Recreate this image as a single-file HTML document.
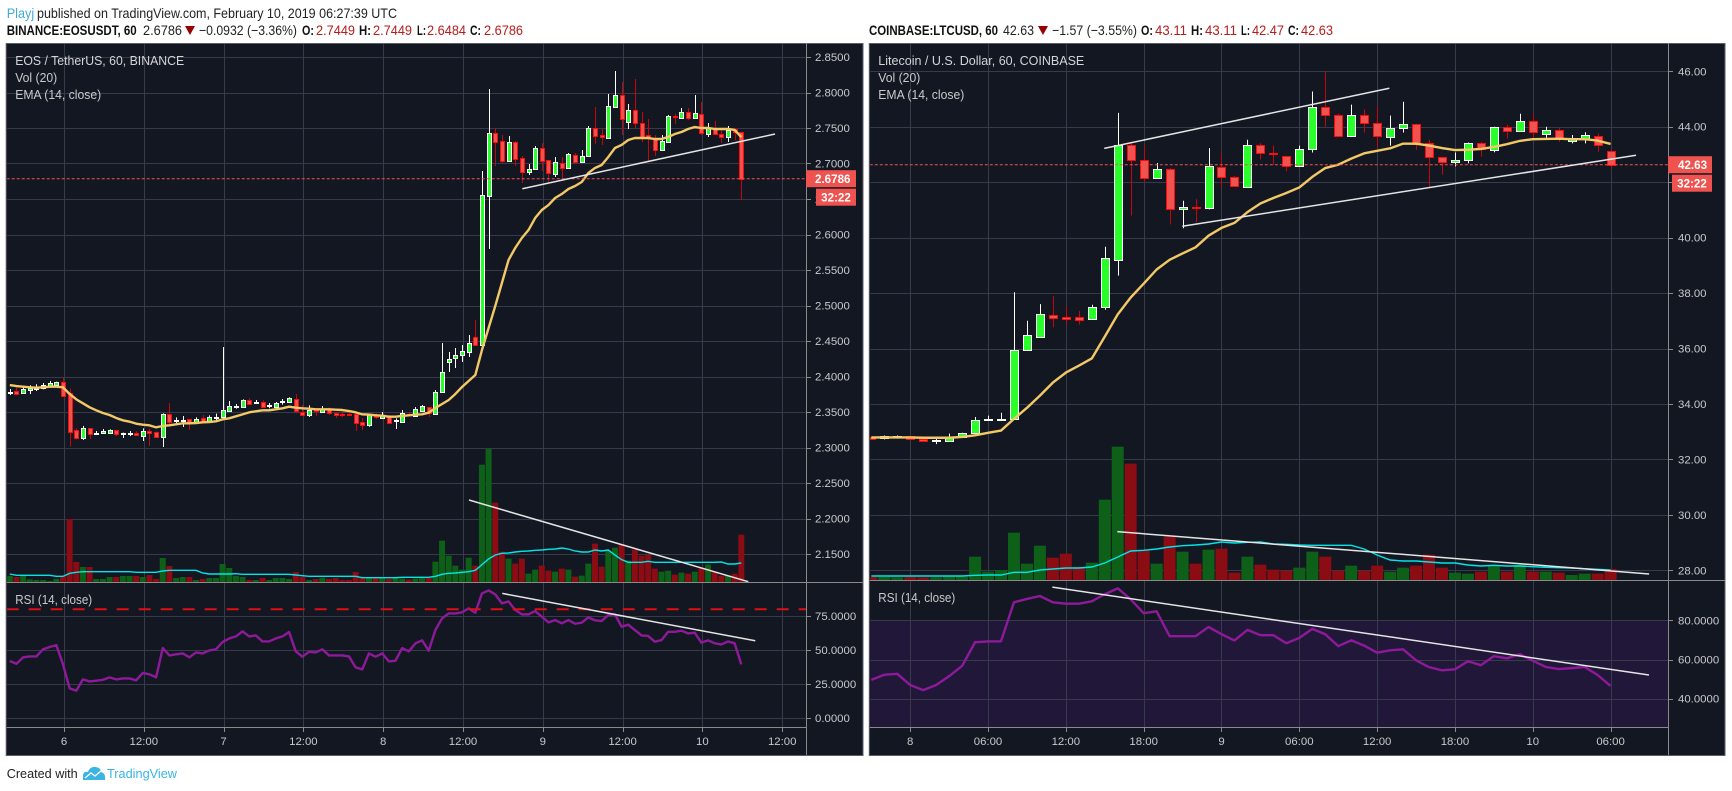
<!DOCTYPE html>
<html lang="en">
<head>
<meta charset="utf-8">
<title>EOSUSDT and LTCUSD 60 minute charts</title>
<style>
html,body{margin:0;padding:0;background:#fff;width:1732px;height:791px;overflow:hidden}
svg{display:block;font-family:"Liberation Sans",sans-serif}
</style>
</head>
<body>
<svg id="root" width="1732" height="791" viewBox="0 0 1732 791">
  <g font-size="14">
    <text x="6.7" y="18" fill="#3fa9e0" textLength="27.5" lengthAdjust="spacingAndGlyphs">Playj</text>
    <text x="37" y="18" fill="#222" textLength="360" lengthAdjust="spacingAndGlyphs">published on TradingView.com, February 10, 2019 06:27:39 UTC</text>
  </g>
  <g font-size="14">
    <text x="6.7" y="35" fill="#111" font-weight="bold" textLength="130" lengthAdjust="spacingAndGlyphs">BINANCE:EOSUSDT, 60</text>
    <text x="143" y="35" fill="#222" textLength="39" lengthAdjust="spacingAndGlyphs">2.6786</text>
    <polygon points="185,26 195,26 190,35" fill="#990000"/>
    <text x="199" y="35" fill="#222" textLength="98" lengthAdjust="spacingAndGlyphs">−0.0932 (−3.36%)</text>
    <text x="302" y="35" fill="#111" font-weight="bold" textLength="12" lengthAdjust="spacingAndGlyphs">O:</text>
    <text x="316" y="35" fill="#b71c1c" textLength="39" lengthAdjust="spacingAndGlyphs">2.7449</text>
    <text x="359" y="35" fill="#111" font-weight="bold" textLength="12" lengthAdjust="spacingAndGlyphs">H:</text>
    <text x="373" y="35" fill="#b71c1c" textLength="39" lengthAdjust="spacingAndGlyphs">2.7449</text>
    <text x="417" y="35" fill="#111" font-weight="bold" textLength="9" lengthAdjust="spacingAndGlyphs">L:</text>
    <text x="427" y="35" fill="#b71c1c" textLength="39" lengthAdjust="spacingAndGlyphs">2.6484</text>
    <text x="470" y="35" fill="#111" font-weight="bold" textLength="11" lengthAdjust="spacingAndGlyphs">C:</text>
    <text x="484" y="35" fill="#b71c1c" textLength="39" lengthAdjust="spacingAndGlyphs">2.6786</text>
  </g>
  <g font-size="14">
    <text x="869" y="35" fill="#111" font-weight="bold" textLength="129" lengthAdjust="spacingAndGlyphs">COINBASE:LTCUSD, 60</text>
    <text x="1003" y="35" fill="#222" textLength="31" lengthAdjust="spacingAndGlyphs">42.63</text>
    <polygon points="1038,26 1048,26 1043,35" fill="#990000"/>
    <text x="1052" y="35" fill="#222" textLength="85" lengthAdjust="spacingAndGlyphs">−1.57 (−3.55%)</text>
    <text x="1141" y="35" fill="#111" font-weight="bold" textLength="12" lengthAdjust="spacingAndGlyphs">O:</text>
    <text x="1155" y="35" fill="#b71c1c" textLength="32" lengthAdjust="spacingAndGlyphs">43.11</text>
    <text x="1191" y="35" fill="#111" font-weight="bold" textLength="12" lengthAdjust="spacingAndGlyphs">H:</text>
    <text x="1205" y="35" fill="#b71c1c" textLength="32" lengthAdjust="spacingAndGlyphs">43.11</text>
    <text x="1241" y="35" fill="#111" font-weight="bold" textLength="9" lengthAdjust="spacingAndGlyphs">L:</text>
    <text x="1252" y="35" fill="#b71c1c" textLength="32" lengthAdjust="spacingAndGlyphs">42.47</text>
    <text x="1288" y="35" fill="#111" font-weight="bold" textLength="11" lengthAdjust="spacingAndGlyphs">C:</text>
    <text x="1301" y="35" fill="#b71c1c" textLength="32" lengthAdjust="spacingAndGlyphs">42.63</text>
  </g>
  <g font-size="13">
    <text x="6.7" y="778" fill="#222" textLength="71" lengthAdjust="spacingAndGlyphs">Created with</text>
    <path d="M83 780 L83 775 Q84 771 88 772 Q90 766 96 767 Q101 768 101 772 Q105 773 105 777 L105 780 Z" fill="#3bb3e4"/>
    <path d="M85 778 L91 773 L95 776 L102 770" fill="none" stroke="#fff" stroke-width="1.3"/>
    <text x="107" y="778" fill="#3bb3e4" textLength="70" lengthAdjust="spacingAndGlyphs">TradingView</text>
  </g>
</svg>
<script>
/* ---------- left chart: BINANCE EOSUSDT ---------- */
const leftOpen=[
2.3777,2.3796,2.3772,2.3810,2.3824,2.3833,2.3866,2.3880,2.3918,2.3763,
2.3242,2.3139,2.3270,2.3200,2.3209,2.3209,2.3242,2.3200,2.3195,2.3200,
2.3167,2.3228,2.3214,2.3153,2.3467,2.3373,2.3383,2.3397,2.3340,2.3416,
2.3378,2.3425,2.3430,2.3519,2.3580,2.3575,2.3664,2.3627,2.3646,2.3589,
2.3575,2.3641,2.3646,2.3678,2.3505,2.3463,2.3528,2.3505,2.3538,2.3481,
2.3472,2.3472,2.3467,2.3355,2.3322,2.3448,2.3411,2.3434,2.3373,2.3359,
2.3472,2.3444,2.3514,2.3570,2.3472,2.3782,2.4204,2.4261,2.4303,2.4345,
2.4556,2.4444,2.6542,2.7430,2.7317,2.7035,2.7303,2.7077,2.6880,2.6923,
2.7218,2.7049,2.6852,2.7007,2.6937,2.7120,2.7021,2.7106,2.7500,2.7401,
2.7359,2.7796,2.7965,2.7585,2.7754,2.7570,2.7401,2.7359,2.7190,2.7303,
2.7669,2.7641,2.7725,2.7641,2.7697,2.7415,2.7500,2.7415,2.7373,2.7486,2.7449];
const leftHigh=[
2.3824,2.3847,2.3871,2.3876,2.3890,2.3909,2.3937,2.3927,2.3993,2.3833,
2.3270,2.3303,2.3279,2.3232,2.3261,2.3256,2.3247,2.3209,2.3232,2.3228,
2.3270,2.3265,2.3228,2.3481,2.3627,2.3425,2.3444,2.3397,2.3425,2.3458,
2.3453,2.3477,2.4416,2.3655,2.3613,2.3678,2.3693,2.3669,2.3664,2.3627,
2.3641,2.3683,2.3707,2.3754,2.3599,2.3594,2.3538,2.3585,2.3566,2.3495,
2.3505,2.3491,2.3481,2.3416,2.3472,2.3481,2.3500,2.3458,2.3411,2.3528,
2.3500,2.3570,2.3599,2.3570,2.3810,2.4472,2.4345,2.4401,2.4444,2.4585,
2.4796,2.6894,2.8049,2.7500,2.7401,2.7387,2.7317,2.7106,2.6993,2.7246,
2.7289,2.7049,2.7092,2.7092,2.7148,2.7148,2.7190,2.7528,2.7796,2.7486,
2.7979,2.8303,2.8148,2.7838,2.8190,2.7725,2.7627,2.7401,2.7401,2.7683,
2.7697,2.7782,2.7782,2.7965,2.7866,2.7570,2.7599,2.7472,2.7528,2.7500,2.7449];
const leftLow=[
2.3739,2.3758,2.3768,2.3754,2.3796,2.3819,2.3857,2.3871,2.3711,2.3012,
2.3115,2.3106,2.3120,2.3176,2.3204,2.3190,2.3162,2.3134,2.3162,2.3162,
2.3092,2.3021,2.3134,2.3007,2.3326,2.3326,2.3289,2.3247,2.3331,2.3350,
2.3369,2.3387,2.3397,2.3505,2.3547,2.3566,2.3613,2.3617,2.3566,2.3552,
2.3552,2.3603,2.3632,2.3481,2.3453,2.3430,2.3444,2.3491,2.3458,2.3416,
2.3425,2.3444,2.3232,2.3247,2.3293,2.3401,2.3401,2.3345,2.3261,2.3359,
2.3444,2.3430,2.3500,2.3430,2.3458,2.3782,2.4063,2.4120,2.4204,2.4275,
2.4430,2.4430,2.5796,2.6965,2.7007,2.7035,2.6965,2.6725,2.6838,2.6908,
2.6894,2.6739,2.6810,2.6796,2.6937,2.7007,2.7021,2.7106,2.7275,2.7261,
2.7359,2.7796,2.7401,2.7486,2.7500,2.7303,2.7035,2.7106,2.7176,2.7289,
2.7556,2.7627,2.7613,2.7627,2.7401,2.7373,2.7401,2.7289,2.7303,2.7331,2.6484];
const leftClose=[
2.3787,2.3758,2.3824,2.3833,2.3833,2.3876,2.3904,2.3918,2.3730,2.3223,
2.3139,2.3270,2.3195,2.3209,2.3228,2.3242,2.3195,2.3204,2.3200,2.3171,
2.3228,2.3209,2.3148,2.3467,2.3364,2.3383,2.3392,2.3340,2.3397,2.3373,
2.3425,2.3434,2.3524,2.3580,2.3589,2.3664,2.3617,2.3641,2.3570,2.3594,
2.3622,2.3650,2.3693,2.3519,2.3458,2.3524,2.3519,2.3538,2.3481,2.3463,
2.3463,2.3463,2.3350,2.3322,2.3453,2.3425,2.3453,2.3350,2.3383,2.3486,
2.3458,2.3542,2.3585,2.3486,2.3782,2.4063,2.4247,2.4303,2.4359,2.4472,
2.4444,2.6556,2.7430,2.7303,2.7035,2.7303,2.7063,2.6880,2.6923,2.7218,
2.7035,2.6866,2.7021,2.6937,2.7134,2.7021,2.7106,2.7500,2.7387,2.7373,
2.7810,2.7965,2.7627,2.7754,2.7570,2.7373,2.7373,2.7190,2.7317,2.7669,
2.7655,2.7725,2.7641,2.7711,2.7430,2.7500,2.7415,2.7373,2.7472,2.7444,2.6786];
const leftEMA=[
2.3880,2.3866,2.3857,2.3847,2.3843,2.3847,2.3857,2.3857,2.3847,2.3754,
2.3678,2.3622,2.3566,2.3524,2.3486,2.3458,2.3416,2.3383,2.3364,2.3336,
2.3322,2.3312,2.3284,2.3303,2.3312,2.3326,2.3340,2.3340,2.3345,2.3355,
2.3359,2.3369,2.3397,2.3411,2.3439,2.3467,2.3495,2.3510,2.3524,2.3524,
2.3538,2.3552,2.3575,2.3561,2.3552,2.3547,2.3538,2.3538,2.3538,2.3533,
2.3528,2.3514,2.3495,2.3467,2.3463,2.3453,2.3448,2.3434,2.3434,2.3444,
2.3453,2.3462,2.3468,2.3490,2.3556,2.3613,2.3669,2.3754,2.3852,2.3937,
2.4021,2.4373,2.4683,2.4993,2.5317,2.5641,2.5810,2.5951,2.6063,2.6232,
2.6345,2.6415,2.6514,2.6570,2.6641,2.6683,2.6739,2.6866,2.6937,2.6979,
2.7092,2.7218,2.7261,2.7331,2.7359,2.7359,2.7359,2.7345,2.7345,2.7373,
2.7415,2.7444,2.7486,2.7514,2.7500,2.7500,2.7486,2.7486,2.7486,2.7472,2.7373];
const leftVolume=[
18,15,18,8,6,6,3,9,18,189,
60,45,45,9,9,15,15,18,18,18,
15,21,9,72,48,12,15,15,6,9,
12,12,54,42,18,15,6,6,12,6,
12,12,9,30,15,6,9,12,9,12,
6,6,30,12,12,12,12,9,12,10,
7,10,15,13,61,124,79,49,37,73,
49,352,400,238,91,70,55,70,25,37,
49,34,31,40,37,16,19,55,115,46,
94,103,112,64,97,79,82,40,31,34,
22,28,25,31,43,52,31,19,19,25,142];
const leftVolumeMA=[
24,20,20,20,20,20,20,17,17,26,
29,31,31,31,31,31,31,31,31,29,
29,29,29,33,35,35,35,35,35,27,
24,24,24,24,25,23,23,23,23,23,
23,23,23,21,19,17,17,17,17,17,
17,17,17,13,13,13,13,13,13,14,
14,14,14,14,17,23,26,27,29,31,
35,52,69,81,86,87,90,92,93,95,
96,98,99,102,99,93,90,90,96,93,
96,81,67,59,59,59,62,59,59,59,
59,59,59,59,59,59,59,60,54,54,57];
const leftRSI=[
41.9,39.9,44.6,45.3,45.3,50.5,52.2,53.6,39.4,21.8,
20.1,28.4,26.9,27.4,28.1,29.9,28.4,29.1,29.1,27.7,
33.1,32.1,29.9,51.4,46.0,46.8,47.5,44.6,48.2,47.5,
49.7,50.5,55.8,58.5,60.0,63.7,60.0,60.7,56.3,56.3,
58.5,60.0,63.2,49.0,45.1,48.7,48.2,50.5,46.0,46.0,
46.0,45.3,37.2,35.7,47.5,45.1,47.5,41.6,42.1,51.4,
49.0,54.9,57.1,49.5,64.7,73.2,76.9,76.9,77.7,80.6,
77.4,91.6,93.8,90.9,84.3,85.7,79.4,76.2,76.2,78.6,
74.5,70.3,72.0,69.6,72.0,69.3,70.1,74.0,71.8,71.3,
75.7,76.2,67.1,68.6,64.7,60.7,60.3,56.1,57.3,63.4,
63.4,64.2,62.2,62.7,55.4,57.1,54.9,54.1,56.3,54.9,39.4];
const leftPriceTicks=[2.85,2.8,2.75,2.7,2.65,2.6,2.55,2.5,2.45,2.4,2.35,2.3,2.25,2.2,2.15];
const leftRsiTicks=[75,50,25,0];
const leftRsiDashedLevel=80;
const leftTimeLabels=['6','12:00','7','12:00','8','12:00','9','12:00','10','12:00'];
const leftPriceTrend=[[77.07,2.6645],[115.07,2.7415]];
const leftVolumeTrend=[[69.05,246],[111.05,1]];
const leftRsiTrend=[[74.06,91.6],[112.1,56.8]];

/* ---------- right chart: COINBASE LTCUSD ---------- */
const rightOpen=[
32.80,32.78,32.81,32.85,32.74,32.68,32.66,32.81,32.95,33.43,
33.45,33.46,35.93,36.43,37.22,37.15,37.15,37.08,37.50,39.20,
43.34,42.80,42.15,42.48,41.03,41.12,41.07,42.55,42.19,41.83,
43.34,43.05,42.95,42.60,43.19,44.71,44.42,43.65,44.42,44.14,
43.62,43.94,44.10,43.41,42.91,42.73,42.80,43.41,43.16,43.98,
43.85,44.20,43.75,43.90,43.50,43.55,43.65,43.11];
const rightHigh=[
32.80,32.86,32.86,32.86,32.82,32.78,32.93,32.96,33.53,33.58,
33.68,38.03,37.00,37.60,37.90,37.50,37.35,37.58,39.67,44.50,
43.41,43.32,42.69,42.51,41.33,41.39,43.23,43.05,42.22,43.53,
43.41,43.32,42.96,43.32,45.27,45.99,44.47,44.80,44.62,44.72,
44.40,44.90,44.11,43.53,42.92,43.07,43.43,43.45,44.00,44.07,
44.47,44.50,44.00,43.95,43.70,43.80,43.75,43.11];
const rightLow=[
32.74,32.72,32.75,32.73,32.66,32.55,32.66,32.81,32.93,33.41,
33.41,33.45,35.93,36.43,36.76,36.86,36.86,37.04,37.40,38.63,
40.80,42.01,42.15,40.48,40.34,40.55,41.02,41.81,41.83,41.81,
42.82,42.62,42.39,42.60,43.07,44.00,43.65,43.65,43.79,43.28,
43.32,43.79,43.17,41.78,42.27,42.57,42.68,42.92,43.08,43.57,
43.85,43.55,43.60,43.45,43.40,43.40,43.10,42.47];
const rightClose=[
32.74,32.84,32.84,32.73,32.66,32.70,32.80,32.95,33.41,33.46,
33.47,35.93,36.50,37.26,37.11,37.08,37.04,37.50,39.25,43.33,
42.79,42.15,42.48,41.03,41.11,41.06,42.58,42.19,41.85,43.34,
43.04,43.00,42.57,43.20,44.71,44.42,43.65,44.42,44.14,43.65,
43.95,44.10,43.38,42.91,42.72,42.80,43.41,43.20,43.99,43.85,
44.21,43.80,43.90,43.60,43.57,43.70,43.35,42.63];
const rightEMA=[
32.79,32.79,32.79,32.79,32.78,32.78,32.78,32.81,32.87,32.96,
33.04,33.46,33.86,34.30,34.77,35.13,35.38,35.64,36.43,37.23,
37.84,38.34,38.85,39.20,39.43,39.65,40.07,40.35,40.53,40.92,
41.23,41.43,41.61,41.81,42.19,42.51,42.63,42.85,43.04,43.13,
43.22,43.39,43.39,43.32,43.23,43.16,43.17,43.20,43.27,43.37,
43.49,43.55,43.56,43.57,43.55,43.55,43.50,43.38];
const rightVolume=[
9,9,8,9,8,8,10,10,70,25,
30,142,49,103,67,79,40,52,241,400,
349,88,49,130,85,49,91,94,22,70,
46,31,28,37,85,70,28,43,28,43,
25,37,43,76,37,22,19,25,43,25,
46,25,25,22,15,19,19,33];
const rightVolumeMA=[
12,12,12,12,12,12,12,12,14,15,
15,23,23,30,33,36,36,39,51,69,
87,89,93,99,103,105,108,114,111,113,
114,108,107,105,104,104,104,104,93,75,
60,57,57,54,51,51,45,42,44,42,
42,40,38,37,36,34,32,30];
const rightRSI=[
49.6,52.2,52.7,47.0,44.4,47.0,51.5,56.7,68.8,69.2,
69.3,89.2,90.9,92.4,89.2,88.5,88.5,89.7,93.3,96.3,
90.7,83.6,84.6,71.9,71.9,71.9,76.6,72.9,69.7,75.1,
72.4,72.4,68.3,71.0,75.6,72.9,66.8,69.8,67.1,63.5,
64.7,65.2,59.6,56.1,54.5,55.0,59.1,57.1,61.7,60.6,
62.7,59.4,56.2,55.1,55.6,56.2,52.1,46.5];
const rightPriceTicks=[46,44,42,40,38,36,34,32,30,28];
const rightRsiTicks=[80,60,40];
const rightTimeLabels=['8','06:00','12:00','18:00','9','06:00','12:00','18:00','10','06:00'];
const rightPriceTrendUpper=[[17.96,43.22],[39.94,45.39]];
const rightPriceTrendLower=[[23.98,40.41],[58.96,42.97]];
const rightVolumeTrend=[[18.97,145],[59.97,18]];
const rightRsiTrend=[[13.96,96.9],[59.96,52.1]];

const root=document.getElementById('root');
const NS=root.namespaceURI;
const C={bg:'#131722',grid:'#363a4b',frame:'#5c5e66',axis:'#8a8a8a',label:'#c9cacc',
  up:'#2bff2b',upEdge:'#ffffff',down:'#ef5350',downEdge:'#ff0a0a',downWick:'#c4060e',
  volUp:'#0e5f18',volDown:'#8b0c13',ema:'#f3c866',ma:'#00e5e8',rsi:'#8e1a9a',trend:'#e4e4e4',tag:'#ef5350'};

function mk(tag,attrs,parent){
  const el=document.createElementNS(NS,tag);
  for(const k in attrs){el.setAttribute(k,attrs[k]);}
  parent.appendChild(el);
  return el;
}
function pts(list){return list.map(function(p){return p[0].toFixed(2)+','+p[1].toFixed(2);}).join(' ');}

function drawChart(cfg){
  const x=function(i){return cfg.x0+cfg.dx*i;};
  const yPrice=function(p){return cfg.priceY-(p-cfg.priceRef)*cfg.priceScale;};
  const yVol=function(v){return cfg.volBase-v/3;};
  const yRsi=function(v){return cfg.rsiY-(v-cfg.rsiRef)*cfg.rsiScale;};
  const L=cfg.left,R=cfg.axisX,T=cfg.top,B=cfg.axisY;

  const g=mk('g',{},root);
  
  

  const frame=mk('rect',{x:L-0.5,y:T+0.5,width:cfg.right-L+0.5,height:cfg.bottom-T,fill:C.bg,stroke:C.frame,'stroke-width':1},g);
  
  

  const clip=mk('clipPath',{id:cfg.name+'-clip'},g);
  
  
  mk('rect',{x:L+0.5,y:T+1,width:R-L-0.5,height:B-T-1},clip);

  const plot=mk('g',{'clip-path':'url(#'+cfg.name+'-clip)'},g);
  
  

  if(cfg.rsiBandTop!==undefined){
    const band=mk('rect',{x:L,y:yRsi(cfg.rsiBandTop),width:R-L,height:B-yRsi(cfg.rsiBandTop),fill:'#211738'},plot);
    
    
  }

  const grid=mk('g',{stroke:C.grid,'stroke-width':1},plot);
  
  
  cfg.priceTicks.forEach(function(t){
    const yy=Math.round(yPrice(t))+0.5;
    const ln=mk('line',{x1:L,x2:R,y1:yy,y2:yy},grid);
    
    
  });
  cfg.rsiTicks.forEach(function(t){
    const yy=Math.round(yRsi(t))+0.5;
    const ln=mk('line',{x1:L,x2:R,y1:yy,y2:yy},grid);
    
    
  });
  cfg.timeLabels.forEach(function(t,k){
    const xx=Math.round(x(cfg.timeStart+cfg.timeStep*k))+0.5;
    const ln=mk('line',{x1:xx,x2:xx,y1:T,y2:B},grid);
    
    
  });

  const vols=mk('g',{},plot);
  
  
  cfg.volume.forEach(function(v,i){
    const up=cfg.close[i]>=cfg.open[i];
    const b=mk('rect',{x:x(i)-cfg.volW/2,y:yVol(v),width:cfg.volW,height:cfg.volBase-yVol(v),fill:up?C.volUp:C.volDown},vols);
    
    
  });
  const ma=mk('polyline',{points:pts(cfg.volumeMA.map(function(v,i){return [x(i),yVol(v)];})),fill:'none',stroke:C.ma,'stroke-width':1.4},plot);
  
  

  const candles=mk('g',{},plot);
  
  
  cfg.open.forEach(function(o,i){
    const c=cfg.close[i],up=c>=o;
    const cx=Math.round(x(i));
    const wrap=mk('g',{},candles);
    
    
    const w=mk('line',{x1:cx+0.5,x2:cx+0.5,y1:yPrice(cfg.high[i]),y2:yPrice(cfg.low[i]),stroke:up?C.upEdge:C.downWick,'stroke-width':1},wrap);
    
    
    const top=Math.round(yPrice(Math.max(o,c)));
    const bot=Math.round(yPrice(Math.min(o,c)));
    const b=mk('rect',{x:cx-cfg.bodyHalf+0.5,y:top+0.5,width:cfg.bodyHalf*2,height:Math.max(1,bot-top),fill:up?C.up:C.down,stroke:up?C.upEdge:C.downEdge,'stroke-width':1},wrap);
    
    
  });

  const ema=mk('polyline',{points:pts(cfg.ema.map(function(v,i){return [x(i),yPrice(v)];})),fill:'none',stroke:C.ema,'stroke-width':2.4,'stroke-linejoin':'round'},plot);
  
  

  const rsi=mk('polyline',{points:pts(cfg.rsi.map(function(v,i){return [x(i),yRsi(v)];})),fill:'none',stroke:C.rsi,'stroke-width':2.4,'stroke-linejoin':'round'},plot);
  
  

  if(cfg.rsiDashed!==undefined){
    const d=mk('line',{x1:L,x2:R,y1:yRsi(cfg.rsiDashed),y2:yRsi(cfg.rsiDashed),stroke:'#e00f14','stroke-width':2,'stroke-dasharray':'12 10'},plot);
    
    
  }

  const lastY=yPrice(cfg.close[cfg.close.length-1]);
  const pl=mk('line',{x1:L,x2:R,y1:lastY,y2:lastY,stroke:C.tag,'stroke-width':1,'stroke-dasharray':'3 2'},plot);
  
  

  cfg.priceTrends.forEach(function(t){
    const ln=mk('line',{x1:x(t[0][0]),y1:yPrice(t[0][1]),x2:x(t[1][0]),y2:yPrice(t[1][1]),stroke:C.trend,'stroke-width':1.5},plot);
    
    
  });
  const vt=mk('line',{x1:x(cfg.volumeTrend[0][0]),y1:yVol(cfg.volumeTrend[0][1]),x2:x(cfg.volumeTrend[1][0]),y2:yVol(cfg.volumeTrend[1][1]),stroke:C.trend,'stroke-width':1.5},plot);
  
  
  const rt=mk('line',{x1:x(cfg.rsiTrend[0][0]),y1:yRsi(cfg.rsiTrend[0][1]),x2:x(cfg.rsiTrend[1][0]),y2:yRsi(cfg.rsiTrend[1][1]),stroke:C.trend,'stroke-width':1.5},plot);
  
  

  const axes=mk('g',{stroke:C.axis,'stroke-width':1},g);
  
  
  const a1=mk('line',{x1:R+0.5,x2:R+0.5,y1:T,y2:cfg.bottom},axes);
  
  
  const a2=mk('line',{x1:L,x2:R,y1:B+0.5,y2:B+0.5},axes);
  
  
  const a3=mk('line',{x1:L,x2:cfg.right,y1:cfg.volBase+0.5,y2:cfg.volBase+0.5},axes);
  
  

  const labels=mk('g',{fill:C.label,'font-size':11.4},g);
  
  
  function yTick(yy,str){
    const tk=mk('line',{x1:R+1,x2:R+5,y1:Math.round(yy)+0.5,y2:Math.round(yy)+0.5,stroke:C.axis},labels);
    
    
    const t=mk('text',{x:R+cfg.labelInset,y:yy+4},labels);
    
    
    t.textContent=str;
  }
  cfg.priceTicks.forEach(function(t){yTick(yPrice(t),t.toFixed(cfg.priceDecimals));});
  cfg.rsiTicks.forEach(function(t){yTick(yRsi(t),t.toFixed(4));});
  cfg.timeLabels.forEach(function(str,k){
    const xx=x(cfg.timeStart+cfg.timeStep*k);
    const tk=mk('line',{x1:Math.round(xx)+0.5,x2:Math.round(xx)+0.5,y1:B+1,y2:B+5,stroke:C.axis},labels);
    
    
    const t=mk('text',{x:xx,y:745,'text-anchor':'middle'},labels);
    
    
    t.textContent=str;
  });

  const tag=mk('rect',{x:R,y:lastY-8.5,width:cfg.tagW,height:17,fill:C.tag},g);
  
  
  const tagT=mk('text',{x:R+cfg.tagInset,y:lastY+4.2,fill:'#fff','font-size':11.6,'font-weight':'bold'},g);
  
  
  tagT.textContent=cfg.lastLabel;
  const cd=mk('rect',{x:R+cfg.tagW-40,y:lastY+10,width:40,height:17,fill:C.tag},g);
  
  
  const cdT=mk('text',{x:R+cfg.tagW-20,y:lastY+22.6,fill:'#fff','font-size':11.6,'font-weight':'bold','text-anchor':'middle'},g);
  
  
  cdT.textContent='32:22';

  const legend=mk('g',{fill:C.label,'font-size':13},g);
  
  
  const lt=mk('text',{x:L+8.5,y:65,textLength:cfg.titleW,lengthAdjust:'spacingAndGlyphs',fill:'#d4d5d7'},legend);
  
  
  lt.textContent=cfg.title;
  const lv=mk('text',{x:L+8.5,y:82,textLength:42,lengthAdjust:'spacingAndGlyphs'},legend);
  
  
  lv.textContent='Vol (20)';
  const le=mk('text',{x:L+8.5,y:99,textLength:86,lengthAdjust:'spacingAndGlyphs'},legend);
  
  
  le.textContent='EMA (14, close)';
  const lr=mk('text',{x:L+8.5,y:cfg.rsiLabelY,textLength:77,lengthAdjust:'spacingAndGlyphs'},legend);
  
  
  lr.textContent='RSI (14, close)';
}

drawChart({
  name:'eos',title:'EOS / TetherUS, 60, BINANCE',titleW:169,lastLabel:'2.6786',
  left:6.7,right:863,axisX:806,top:43,bottom:755,axisY:727,
  x0:9.8,dx:6.65,timeStart:8.15,timeStep:12,timeLabels:leftTimeLabels,
  priceRef:2.85,priceY:57,priceScale:710,priceTicks:leftPriceTicks,priceDecimals:4,
  volBase:582,volW:6,bodyHalf:2,
  rsiRef:0,rsiY:718,rsiScale:1.36,rsiTicks:leftRsiTicks,rsiDashed:leftRsiDashedLevel,rsiLabelY:604,
  labelInset:9,tagW:50,tagInset:9,
  open:leftOpen,high:leftHigh,low:leftLow,close:leftClose,ema:leftEMA,
  volume:leftVolume,volumeMA:leftVolumeMA,rsi:leftRSI,
  priceTrends:[leftPriceTrend],volumeTrend:leftVolumeTrend,rsiTrend:leftRsiTrend
});
drawChart({
  name:'ltc',title:'Litecoin / U.S. Dollar, 60, COINBASE',titleW:206,lastLabel:'42.63',
  left:869.8,right:1725,axisX:1668,top:43,bottom:755,axisY:727,
  x0:871.3,dx:12.97,timeStart:3,timeStep:6,timeLabels:rightTimeLabels,
  priceRef:46,priceY:71.3,priceScale:27.72,priceTicks:rightPriceTicks,priceDecimals:2,
  volBase:580,volW:12,bodyHalf:4,
  rsiRef:80,rsiY:620.3,rsiScale:1.96,rsiTicks:rightRsiTicks,rsiBandTop:80,rsiLabelY:602,
  labelInset:10,tagW:44,tagInset:10,
  open:rightOpen,high:rightHigh,low:rightLow,close:rightClose,ema:rightEMA,
  volume:rightVolume,volumeMA:rightVolumeMA,rsi:rightRSI,
  priceTrends:[rightPriceTrendUpper,rightPriceTrendLower],volumeTrend:rightVolumeTrend,rsiTrend:rightRsiTrend
});
</script>
</body>
</html>
